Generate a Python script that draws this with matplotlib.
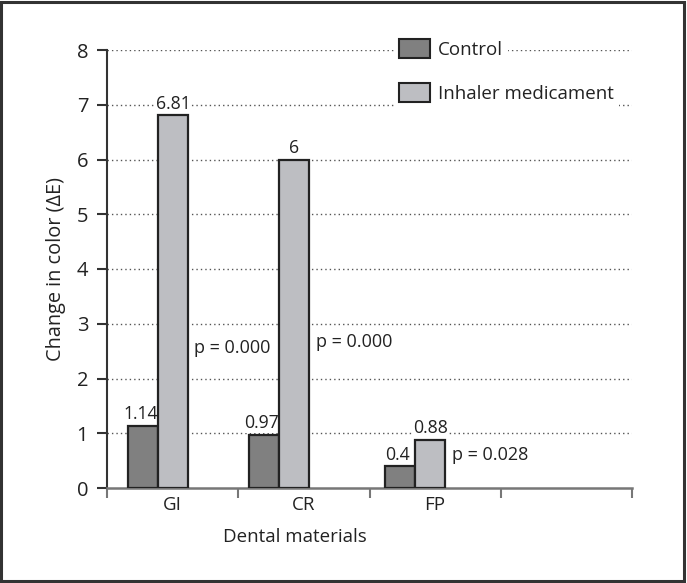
import matplotlib
matplotlib.use("Agg")
import matplotlib.pyplot as plt
from matplotlib.patches import Patch, Rectangle
import numpy as np

plt.rcParams['font.family'] = ['Open Sans', 'DejaVu Sans']

categories = ["GI", "CR", "FP"]
control = [1.14, 0.97, 0.4]
inhaler = [6.81, 6.0, 0.88]
control_labels = ["1.14", "0.97", "0.4"]
inhaler_labels = ["6.81", "6", "0.88"]
p_labels = ["p = 0.000", "p = 0.000", "p = 0.028"]
yticks = [0, 1, 2, 3, 4, 5, 6, 7, 8]

# layout
group_shift = [-0.11, -0.19, -0.153]
bar_w = 0.229
p_pos = [(0.16, 2.56), (1.095, 2.67), (2.129, 0.60)]

W, H = 687, 583
fig = plt.figure(figsize=(W / 100, H / 100), dpi=100)
ax = fig.add_axes([107 / W, 1 - 488 / H, 525 / W, 438 / H])

fig.patches.append(Rectangle((0.002, 0.003), 0.994, 0.994, transform=fig.transFigure,
                             fill=False, edgecolor='#333333', linewidth=2.2))

fs = 13.5
dark = '#808080'
light = '#bdbec2'
edge = '#222222'
x = np.arange(len(categories))
xc = x + np.array(group_shift)

for yv in yticks[1:]:
    ax.axhline(yv, color='#555555', linestyle=(0, (1, 2.2)), linewidth=1.0, zorder=0)

ax.bar(xc - bar_w / 2, control, width=bar_w, color=dark, edgecolor=edge, linewidth=1.6, zorder=3)
ax.bar(xc + bar_w / 2, inhaler, width=bar_w, color=light, edgecolor=edge, linewidth=1.6, zorder=3)

bb = dict(facecolor='white', edgecolor='none', pad=0.4)
for i in range(len(categories)):
    ax.annotate(control_labels[i], (xc[i] - bar_w / 2, control[i]), xytext=(-1.5, 1.8),
                textcoords='offset points', ha='center', va='bottom', fontsize=fs - 0.8,
                color='#222222', bbox=bb, zorder=2.5)
    ax.annotate(inhaler_labels[i], (xc[i] + bar_w / 2, inhaler[i]), xytext=(0, 1.8),
                textcoords='offset points', ha='center', va='bottom', fontsize=fs - 0.8,
                color='#222222', bbox=bb, zorder=4)
    ax.text(p_pos[i][0], p_pos[i][1], p_labels[i], ha='left', va='center', fontsize=fs - 0.5,
            color='#222222', bbox=dict(facecolor='white', edgecolor='none', pad=1.0), zorder=2)

ax.set_xlim(-0.5, 3.5)
ax.set_ylim(0, 8)
ax.set_yticks(yticks)
ax.set_yticklabels([str(v) for v in yticks], fontsize=fs + 1, color='#222222')
ax.set_xticks([-0.5, 0.5, 1.5, 2.5, 3.5])
ax.set_xticklabels([])
ax.set_xticks(x, minor=True)
ax.set_xticklabels(categories, minor=True, fontsize=fs, color='#222222')
ax.tick_params(axis='x', which='minor', length=0, pad=6)
ax.tick_params(axis='x', which='major', direction='out', length=7.5, width=1.5, color='#777777')
ax.tick_params(axis='y', direction='out', length=7.5, width=1.5, color='#333333', pad=6)

for s in ['top', 'right']:
    ax.spines[s].set_visible(False)
ax.spines['left'].set_color('#333333')
ax.spines['left'].set_linewidth(1.5)
ax.spines['bottom'].set_color('#777777')
ax.spines['bottom'].set_linewidth(1.8)

ax.set_ylabel("Change in color (\u0394E)", fontsize=fs * 1.06, color='#222222', labelpad=8)
fig.text(295 / W, 1 - 537 / H, "Dental materials", ha='center', va='center', fontsize=fs,
         color='#222222')

for j, (lab, col, ypx) in enumerate([("Control", dark, 49), ("Inhaler medicament", light, 93)]):
    leg = ax.legend(handles=[Patch(facecolor=col, edgecolor=edge, linewidth=1.5, label=lab)],
                    loc='center left', bbox_to_anchor=(394 / W, 1 - ypx / H),
                    bbox_transform=fig.transFigure, frameon=True, framealpha=1,
                    facecolor='white', edgecolor='none', fancybox=False, fontsize=fs,
                    handlelength=1.65, handleheight=1.15, handletextpad=0.45,
                    borderpad=0.25, borderaxespad=0)
    for t in leg.get_texts():
        t.set_color('#222222')
    leg.set_zorder(5)
    ax.add_artist(leg)

fig.savefig("out.png", dpi=100)
